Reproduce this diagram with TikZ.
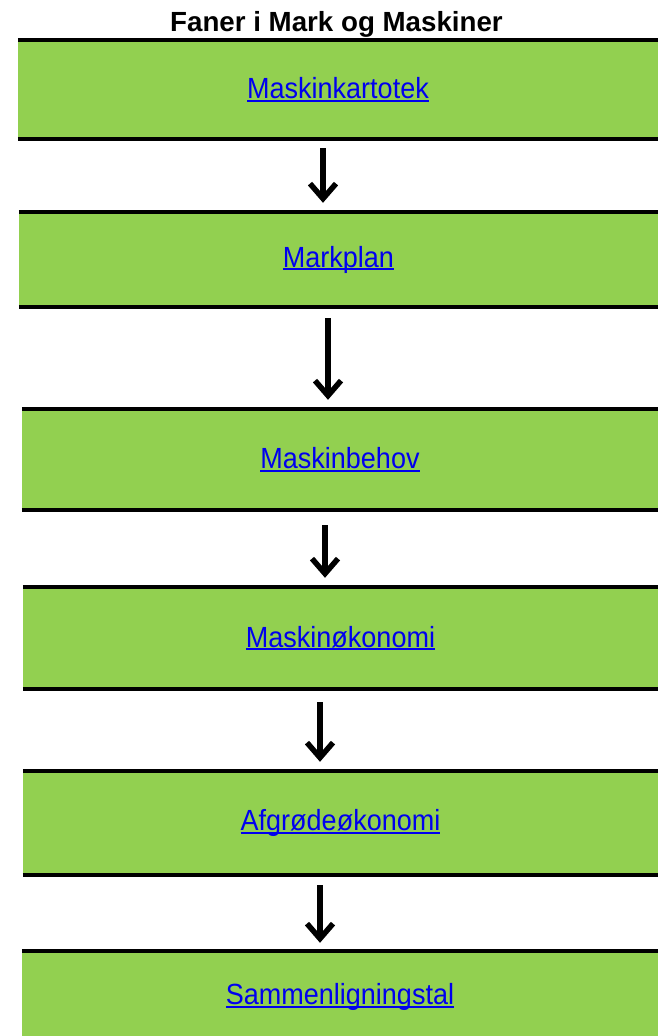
\documentclass[tikz,border=0pt]{standalone}
\usepackage{fontspec}
\setmainfont{Liberation Sans}
\usetikzlibrary{arrows.meta}
\definecolor{boxgreen}{HTML}{92D050}
\definecolor{linkblue}{RGB}{0,0,238}
\newsavebox\lnkbox
\newcommand\lnk[1]{\sbox\lnkbox{\scalebox{1}[1.08]{#1}}\rlap{\rule[-3pt]{\wd\lnkbox}{1.8pt}}\usebox\lnkbox}
\tikzset{
  box/.style={fill=boxgreen, draw=none, inner sep=0pt, minimum width=#1,
    font=\fontsize{27}{32}\selectfont, text=linkblue},
  edge/.style={line width=4pt, black},
  arr/.style={line width=5.5pt, -{Straight Barb[length=15pt,width=26pt,line width=5.5pt]}},
  ttl/.style={font=\bfseries\fontsize{27.7}{32}\selectfont, anchor=base, inner sep=0pt}
}
\begin{document}
\begin{tikzpicture}[x=1pt,y=-1pt]
\useasboundingbox (0,0) rectangle (661,1036);
\clip (0,0) rectangle (661,1036);
\node[ttl] (title) at (336.5,31) {Faner i Mark og Maskiner};
\node[box=640pt, minimum height=99pt]  (b1) at (338,89.5)   {\lnk{Maskinkartotek}};
\node[box=639pt, minimum height=95pt]  (b2) at (338.5,259.5) {\lnk{Markplan}};
\node[box=636pt, minimum height=101pt] (b3) at (340,459.5)  {\lnk{Maskinbehov}};
\node[box=635pt, minimum height=102pt] (b4) at (340.5,638)  {\lnk{Maskinøkonomi}};
\node[box=635pt, minimum height=104pt] (b5) at (340.5,823)  {\lnk{Afgrødeøkonomi}};
\node[box=636pt, minimum height=92pt]  (b6) at (340,997)    {\lnk{Sammenligningstal}};
\foreach \b in {b1,b2,b3,b4,b5}{
  \draw[edge] (\b.north west) -- (\b.north east);
  \draw[edge] (\b.south west) -- (\b.south east);
}
\draw[edge] (b6.north west) -- (b6.north east);
\draw[arr, shorten <=9pt, shorten >=9pt]  ([xshift=-15pt]b1.south) -- ([xshift=-15pt]b1.south |- b2.north);
\draw[arr, shorten <=11pt, shorten >=9pt] ([xshift=-10.5pt]b2.south) -- ([xshift=-10.5pt]b2.south |- b3.north);
\draw[arr, shorten <=15pt, shorten >=9pt] ([xshift=-15pt]b3.south) -- ([xshift=-15pt]b3.south |- b4.north);
\draw[arr, shorten <=13pt, shorten >=9pt] ([xshift=-20.5pt]b4.south) -- ([xshift=-20.5pt]b4.south |- b5.north);
\draw[arr, shorten <=10pt, shorten >=8pt] ([xshift=-20.5pt]b5.south) -- ([xshift=-20.5pt]b5.south |- b6.north);
\end{tikzpicture}
\end{document}
